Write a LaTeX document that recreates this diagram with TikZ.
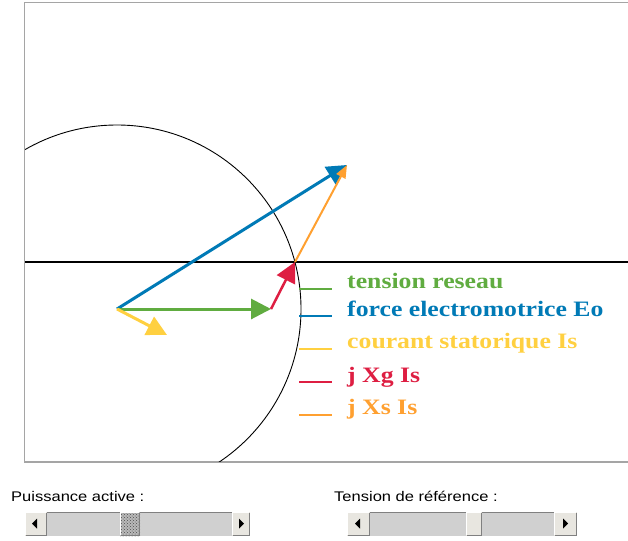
\documentclass[tikz,border=0pt]{standalone}
\usepackage{fontspec}
\setmainfont{Liberation Serif}
\setsansfont{Liberation Sans}
\usetikzlibrary{arrows.meta,calc,patterns}
\definecolor{cgreen}{RGB}{96,172,64}
\definecolor{cblue}{RGB}{0,122,182}
\definecolor{cyellow}{RGB}{255,208,64}
\definecolor{cred}{RGB}{222,30,66}
\definecolor{corange}{RGB}{255,160,48}
\definecolor{framec}{RGB}{165,165,165}
\definecolor{trackc}{RGB}{208,208,208}
\definecolor{btnc}{RGB}{232,230,224}
\definecolor{darkc}{RGB}{128,128,128}
\newcommand\bevelbox[4]{%
  \fill[btnc] (#1,#2) rectangle (#3,#4);
  \draw[white,line width=1.2] (#1+0.6,#4-1) -- (#1+0.6,#2+0.6) -- (#3-1,#2+0.6);
  \draw[darkc,line width=1.2] (#1+0.6,#4-0.6) -- (#3-0.6,#4-0.6) -- (#3-0.6,#2+0.6);
}
\begin{document}
\begin{tikzpicture}[x=1pt,y=-1pt,
  vec/.style={line width=3pt,-{Triangle[length=20pt,width=20pt]}},
  leg/.style={anchor=base west,inner sep=0pt,font=\fontsize{22}{22}\selectfont\bfseries},
  legline/.style={line width=2.5pt},
  lab/.style={anchor=base west,inner sep=0pt,font=\sffamily\fontsize{14}{14}\selectfont}]
\useasboundingbox (0,0) rectangle (628,540);
\fill[white] (0,0) rectangle (628,540);
% frame
\draw[framec,line width=1.3pt] (628,2.5) -- (24.5,2.5) -- (24.5,462) -- (628,462);
\begin{scope}
  \clip (25,3) rectangle (628,461.5);
  \draw[line width=0.9pt] (117,309) circle[radius=184];
\end{scope}
\draw[line width=1.2pt] (25,262) -- (628,262);
% vectors
\coordinate (O) at (117,309);
\coordinate (G) at (271,309);
\coordinate (P) at (295,262);
\coordinate (E) at (347,165);
\coordinate (I) at (167,335);
\draw[vec,cblue] (O) -- (E);
\draw[vec,cgreen] (O) -- (G);
\draw[vec,cred,line width=2.5pt] (G) -- (P);
\draw[corange,line width=2pt,-{Triangle[length=13pt,width=10pt]}] (P) -- (E);
\draw[vec,cyellow] (O) -- (I);
% legend
\node[leg,text=cgreen] (l1) at (347,288) {\scalebox{1.17}[1]{tension reseau}};
\node[leg,text=cblue] (l2) at (347,316) {\scalebox{1.17}[1]{force electromotrice Eo}};
\node[leg,text=cyellow] (l3) at (347,348) {\scalebox{1.17}[1]{courant statorique Is}};
\node[leg,text=cred] (l4) at (347,382) {\scalebox{1.17}[1]{j Xg Is}};
\node[leg,text=corange] (l5) at (347,414) {\scalebox{1.17}[1]{j Xs Is}};
\draw[legline,cgreen] ($(l1.base west)+(-48,1)$) -- ($(l1.base west)+(-15,1)$);
\draw[legline,cblue] ($(l2.base west)+(-48,0)$) -- ($(l2.base west)+(-15,0)$);
\draw[legline,cyellow] ($(l3.base west)+(-48,1)$) -- ($(l3.base west)+(-15,1)$);
\draw[legline,cred] ($(l4.base west)+(-48,0)$) -- ($(l4.base west)+(-15,0)$);
\draw[legline,corange] ($(l5.base west)+(-48,1)$) -- ($(l5.base west)+(-15,1)$);
% labels
\node[lab] (pa) at (11,501) {\scalebox{1.18}[1]{Puissance active :}};
\node[lab] (tr) at (334,501) {\scalebox{1.18}[1]{Tension de référence :}};
% slider 1
\fill[trackc] (25,512) rectangle (250,536);
\draw[darkc,line width=1pt] (25,512.5) -- (250,512.5);
\bevelbox{25}{512}{47}{536}
\bevelbox{232}{512}{250}{536}
\fill (32,523.5) -- (37,518.5) -- (37,528.5) -- cycle;
\fill (244,523.5) -- (239,518.5) -- (239,528.5) -- cycle;
\fill[gray!55] (120,512) rectangle (140,536);
\fill[pattern=crosshatch dots,pattern color=gray!60!black] (120,512) rectangle (140,536);
\draw[white,line width=1pt] (120.5,535) -- (120.5,512.5) -- (139,512.5);
\draw[darkc,line width=1pt] (120.5,535.5) -- (139.5,535.5) -- (139.5,512.5);
% slider 2
\fill[trackc] (347,512) rectangle (577,536);
\draw[darkc,line width=1pt] (347,512.5) -- (577,512.5);
\bevelbox{347}{512}{370}{536}
\bevelbox{554}{512}{577}{536}
\fill (355,523.5) -- (360,518.5) -- (360,528.5) -- cycle;
\fill (568,523.5) -- (563,518.5) -- (563,528.5) -- cycle;
\bevelbox{466}{512}{482}{536}
\end{tikzpicture}
\end{document}
